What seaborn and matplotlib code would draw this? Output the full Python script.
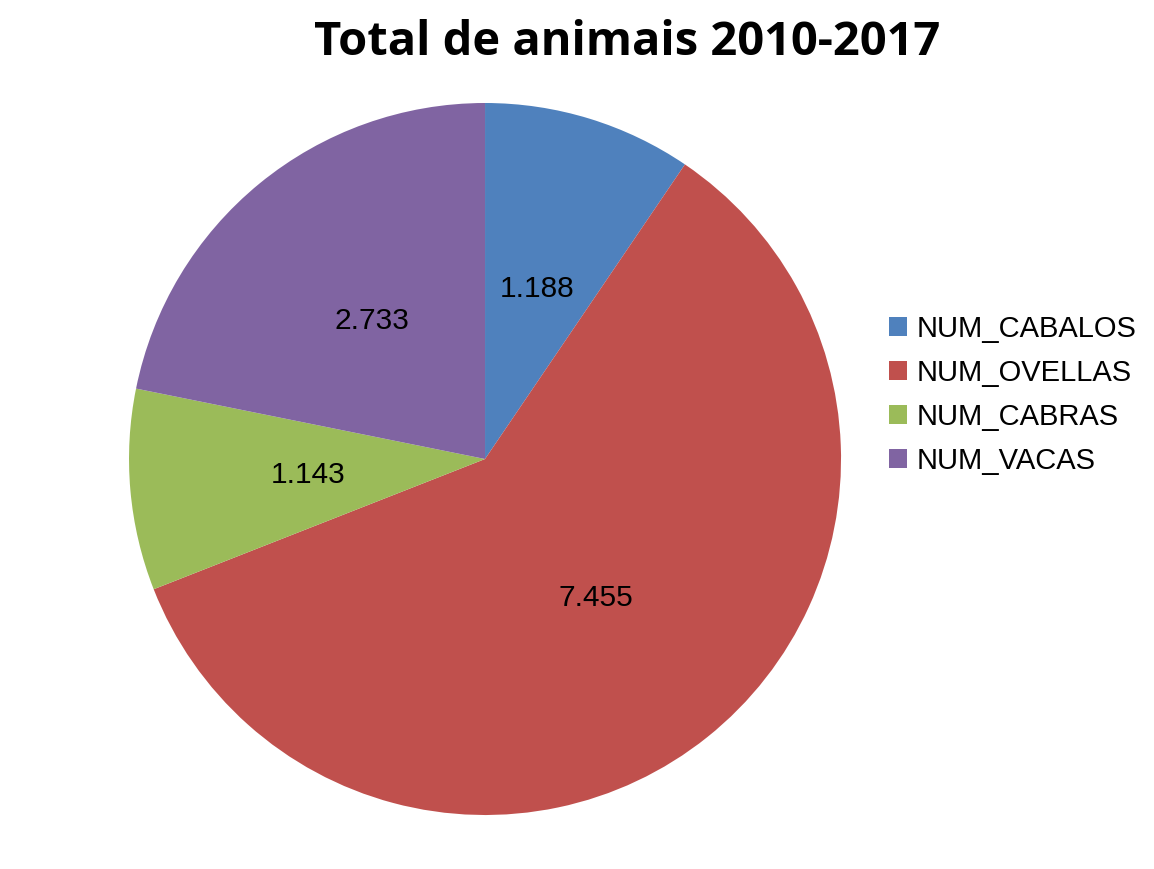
import matplotlib
matplotlib.use("Agg")
import matplotlib.pyplot as plt
import seaborn as sns
from matplotlib.patches import Patch

sns.set_theme(style="white")
plt.rcParams['font.family'] = ['Liberation Sans', 'DejaVu Sans']

categories = ["NUM_CABALOS", "NUM_OVELLAS", "NUM_CABRAS", "NUM_VACAS"]
values = [1188, 7455, 1143, 2733]
colors = ["#4F81BD", "#C0504D", "#9BBB59", "#8064A2"]
title = "Total de animais 2010-2017"

fig = plt.figure(figsize=(11.54, 8.69), dpi=100)
ax = fig.add_axes([0.1118, 0.0621, 0.617, 0.8194])

total = sum(values)

def fmt(pct):
    v = round(pct * total / 100.0)
    return f"{v:,}".replace(",", ".")

wedges, texts, autotexts = ax.pie(
    values, colors=colors, startangle=90, counterclock=False,
    autopct=fmt, pctdistance=0.5, radius=1.0,
    wedgeprops=dict(linewidth=0), textprops=dict(fontsize=21.5, color="black"))
ax.set_xlim(-1, 1)
ax.set_ylim(-1, 1)
ax.set_aspect('equal')
ax.axis('off')

fig.text(0.5436, 0.951, title, ha='center', va='center', color='black',
         fontsize=33.8, fontweight='bold', family=['Open Sans', 'DejaVu Sans'])

handles = [Patch(facecolor=c, edgecolor='none') for c in colors]
leg = fig.legend(handles, categories, loc='center left',
                 bbox_to_anchor=(0.770, 0.5455), frameon=False, fontsize=21,
                 handlelength=0.62, handleheight=0.62, handletextpad=0.34,
                 labelspacing=0.55, borderaxespad=0, borderpad=0,
                 labelcolor='black')

fig.savefig("out.png", dpi=100)
